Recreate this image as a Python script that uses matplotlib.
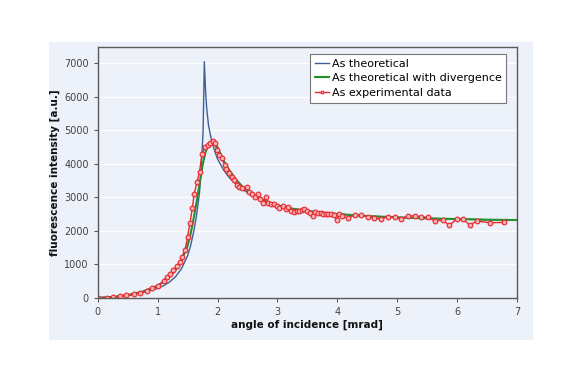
import matplotlib
matplotlib.use("Agg")
import matplotlib.pyplot as plt
from matplotlib.patches import Rectangle

# theoretical curve (blue)
theo_x = [0, 0.25, 0.5, 0.75, 1.0, 1.1, 1.2, 1.3, 1.4, 1.5, 1.55, 1.6, 1.65, 1.7,
          1.73, 1.76, 1.78, 1.80, 1.82, 1.85, 1.9, 1.95, 2.0, 2.1, 2.2, 2.3, 2.4,
          2.5, 2.6, 2.8, 3.0, 3.25, 3.5, 4.0, 4.5, 5.0, 5.5, 6.0, 6.5, 7.0]
theo_y = [0, 15, 60, 150, 280, 360, 470, 630, 870, 1250, 1550, 1950, 2450, 3150,
          3900, 5000, 7050, 6200, 5650, 5150, 4700, 4400, 4150, 3820, 3580, 3410,
          3260, 3140, 3040, 2880, 2760, 2660, 2590, 2500, 2440, 2400, 2370, 2350,
          2330, 2320]

# theoretical with divergence (green)
div_x = [0, 0.25, 0.5, 0.75, 1.0, 1.1, 1.2, 1.3, 1.4, 1.5, 1.55, 1.6, 1.65, 1.7,
         1.75, 1.8, 1.85, 1.9, 1.95, 2.0, 2.05, 2.1, 2.2, 2.3, 2.4, 2.5, 2.6, 2.8,
         3.0, 3.25, 3.5, 4.0, 4.5, 5.0, 5.5, 6.0, 6.5, 7.0]
div_y = [0, 20, 80, 180, 360, 470, 620, 820, 1120, 1550, 1900, 2350, 2850, 3400,
         3950, 4350, 4580, 4670, 4640, 4500, 4300, 4100, 3800, 3550, 3350, 3200,
         3080, 2880, 2760, 2660, 2590, 2500, 2440, 2400, 2370, 2350, 2330, 2320]

# experimental data (red)
exp_x = [0, 0.15, 0.26, 0.37, 0.48, 0.60, 0.71, 0.82, 0.91, 1.01, 1.10, 1.15, 1.21,
         1.26, 1.32, 1.38, 1.41, 1.46, 1.50, 1.54, 1.58, 1.61, 1.66, 1.70, 1.74,
         1.79, 1.84, 1.88, 1.92, 1.95, 1.99, 2.03, 2.07, 2.12, 2.15, 2.19, 2.24,
         2.28, 2.32, 2.36, 2.41, 2.49, 2.53, 2.57, 2.62, 2.67, 2.71, 2.76, 2.81,
         2.85, 2.90, 2.94, 2.99, 3.03, 3.09, 3.14, 3.18, 3.23, 3.27, 3.32, 3.36,
         3.41, 3.45, 3.50, 3.54, 3.59, 3.63, 3.67, 3.72, 3.76, 3.81, 3.85, 3.90,
         3.94, 3.99, 4.03, 4.08, 4.18, 4.29, 4.40, 4.51, 4.62, 4.73, 4.84, 4.96,
         5.07, 5.18, 5.29, 5.40, 5.51, 5.63, 5.76, 5.87, 5.99, 6.10, 6.21, 6.33,
         6.55, 6.78]
exp_y = [0, 0, 20, 40, 70, 110, 150, 210, 280, 350, 510, 610, 710, 830, 950, 1080,
         1230, 1440, 1800, 2240, 2670, 3100, 3470, 3760, 4290, 4490, 4560, 4610,
         4680, 4610, 4410, 4260, 4160, 3960, 3860, 3720, 3620, 3520, 3370, 3320,
         3270, 3320, 3170, 3100, 3020, 3100, 2940, 2840, 3020, 2820, 2790, 2790,
         2740, 2690, 2750, 2640, 2720, 2600, 2570, 2600, 2600, 2620, 2660, 2600,
         2520, 2450, 2570, 2520, 2520, 2500, 2500, 2490, 2490, 2470, 2320, 2500,
         2440, 2370, 2470, 2470, 2420, 2370, 2350, 2420, 2400, 2350, 2450, 2440,
         2420, 2400, 2290, 2320, 2160, 2350, 2350, 2170, 2290, 2240, 2250]

bg = '#EDF1F9'
fig = plt.figure(figsize=(5.75, 3.84), dpi=100)
fig.patches.append(Rectangle((49 / 575, 44 / 384), 484 / 575, 298 / 384,
                             transform=fig.transFigure, facecolor=bg,
                             edgecolor='none', zorder=-10))
ax = fig.add_axes([97.7 / 575, 86.3 / 384, 419.3 / 575, 251 / 384])
ax.set_facecolor(bg)

ax.plot(theo_x, theo_y, color='#3F5F95', lw=1.0, label='As theoretical')
ax.plot(div_x, div_y, color='#23912A', lw=1.5, label='As theoretical with divergence')
ax.plot(exp_x, exp_y, color='#E8262E', lw=1.0, marker='o', ms=3.4,
        markerfacecolor='#F6B0B2', markeredgecolor='#E8262E', markeredgewidth=0.8,
        label='As experimental data')

ax.set_xlim(0, 7)
ax.set_ylim(0, 7500)
ax.set_xticks(range(0, 8))
ax.set_yticks(range(0, 7001, 1000))
ax.yaxis.grid(True, color='white', lw=0.9)
ax.set_axisbelow(True)
for s in ax.spines.values():
    s.set_color('#5A5A5A')
    s.set_linewidth(1.0)
ax.tick_params(labelsize=7, colors='#444444', length=3, width=0.8)
ax.tick_params(axis='both', color='#5A5A5A')

ax.set_xlabel('angle of incidence [mrad]', fontsize=7.5, fontweight='bold',
              color='#111111', labelpad=2)
ax.set_ylabel('fluorescence intensity [a.u.]', fontsize=7.5, fontweight='bold',
              color='#111111', labelpad=3)

leg = ax.legend(loc='upper right', bbox_to_anchor=(0.98, 0.98), fontsize=8,
                fancybox=False, framealpha=1, edgecolor='#777777',
                handlelength=1.3, handletextpad=0.2, borderpad=0.45,
                borderaxespad=0.2, labelspacing=0.4, markerscale=0.6)
leg.get_frame().set_linewidth(0.8)

fig.savefig('out.png', dpi=100)
